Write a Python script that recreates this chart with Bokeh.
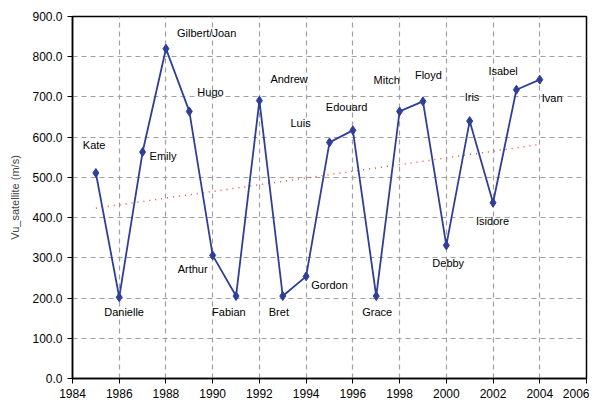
import numpy as np
from bokeh.plotting import figure
from bokeh.models import ColumnDataSource, FixedTicker, NumeralTickFormatter
from bokeh.core.properties import value
from bokeh.embed import file_html
from bokeh.resources import INLINE

years = [1985, 1986, 1987, 1988, 1989, 1990, 1991, 1992, 1993, 1994,
         1995, 1996, 1997, 1998, 1999, 2000, 2001, 2002, 2003, 2004]
speeds = [511, 202, 563, 820, 664, 306, 205, 691, 205, 254,
          587, 617, 205, 664, 689, 331, 640, 437, 718, 743]
names = ["Kate", "Danielle", "Emily", "Gilbert/Joan", "Hugo", "Arthur", "Fabian",
         "Andrew", "Bret", "Gordon", "Luis", "Edouard", "Grace", "Mitch", "Floyd",
         "Debby", "Iris", "Isidore", "Isabel", "Ivan"]
x_ticks = list(range(1984, 2007, 2))
y_ticks = list(range(0, 901, 100))

# label placement (pixel offsets, styling only)
dx = [-13, -15, 7, 11, 8, -35, -24, 11, -14, 5, -39, -27, -14, -26, -8, -14, -5, -17, -28, 2]
dy = [-28, 15, 4, -16, -19, 14, 16, -22, 16, 9, -19, -23, 16, -31, -26, 18, -24, 18, -19, 18]

slope, intercept = np.polyfit(years, speeds, 1)
trend_x = [years[0], years[-1]]
trend_y = [slope * t + intercept for t in trend_x]

p = figure(width=589, height=400, output_backend="svg", toolbar_location=None,
           x_range=(1984, 2006), y_range=(0, 900),
           min_border_left=72, min_border_right=3, min_border_top=16, min_border_bottom=19)
p.background_fill_color = "white"
p.border_fill_color = "white"
p.outline_line_color = "black"
p.outline_line_width = 1.5

src = ColumnDataSource(dict(x=years, y=speeds, name=names, dx=dx, dy=dy))

p.line(trend_x, trend_y, line_color="#FF4A2A", line_width=1.5, line_dash="1 5")
p.line("x", "y", source=src, line_color="#2E3F98", line_width=1.8)
p.scatter("x", "y", source=src, marker="diamond", size=9, fill_color="#2E3F98",
          line_color="#2E3F98")
p.text("x", "y", text="name", source=src, x_offset="dx", y_offset="dy",
       text_font=value("Liberation Sans"), text_font_size="11px",
       text_align="left", text_baseline="middle", text_color="black")

p.xaxis.ticker = FixedTicker(ticks=x_ticks)
p.yaxis.ticker = FixedTicker(ticks=y_ticks)
p.yaxis.formatter = NumeralTickFormatter(format="0.0")
for ax in (p.xaxis[0], p.yaxis[0]):
    ax.major_label_text_font = "Liberation Sans"
    ax.major_label_text_font_size = "12px"
    ax.major_label_text_color = "black"
    ax.axis_line_color = "black"
    ax.axis_line_width = 1.5
    ax.major_tick_line_color = "black"
    ax.major_tick_out = 5
    ax.major_tick_in = 0
    ax.minor_tick_line_color = None
p.yaxis.axis_label = "Vu_satellite (m/s)"
p.yaxis.axis_label_text_font = "Liberation Sans"
p.yaxis.axis_label_text_font_size = "11px"
p.yaxis.axis_label_text_font_style = "normal"
p.yaxis.axis_label_standoff = 8

p.xgrid.ticker = FixedTicker(ticks=x_ticks)
p.ygrid.ticker = FixedTicker(ticks=y_ticks)
for g in (p.xgrid[0], p.ygrid[0]):
    g.grid_line_color = "#A0A0A0"
    g.grid_line_dash = "5 4"
    g.grid_line_width = 1.2

open("out.html", "w").write(file_html(p, INLINE))
